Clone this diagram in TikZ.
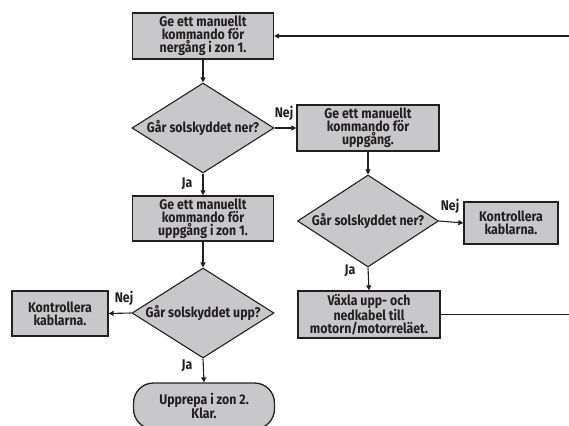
\documentclass[tikz,border=0pt]{standalone}
\usepackage{fontspec}
\setmainfont{Fira Sans}[BoldFeatures={FakeStretch=0.88}]
\usetikzlibrary{shapes.geometric,arrows.meta}
\definecolor{boxfill}{RGB}{200,200,202}
\definecolor{ink}{RGB}{35,31,32}
\tikzset{
  x=1pt,y=-1pt,
  every node/.style={font=\fontsize{14}{12.8}\selectfont\bfseries, text=ink},
  procbox/.style={draw=ink, line width=1.3pt, fill=boxfill, rectangle, align=center, inner sep=0pt},
  decision/.style={draw=ink, line width=1.1pt, fill=boxfill, diamond, aspect=1.58, inner sep=0pt, minimum width=142pt, minimum height=90pt},
  terminal/.style={draw=ink, line width=1.3pt, fill=boxfill, rectangle, rounded corners=20pt, align=center, inner sep=0pt},
  conn/.style={draw=ink, line width=1.1pt},
  arr/.style={conn, -{Triangle[length=5pt,width=5pt]}},
  lbl/.style={inner sep=0pt}
}
\begin{document}
\begin{tikzpicture}
\useasboundingbox (0,0) rectangle (569,425);
\clip (0,0) rectangle (569,425);
% left column
\node[procbox, minimum width=141pt, minimum height=46pt] (n1) at (203,36) {Ge ett manuellt\\kommando för\\nergång i zon 1.};
\node[decision] (d1) at (203,128) {Går solskyddet ner?};
\node[procbox, minimum width=141pt, minimum height=45pt] (n2) at (203,218.5) {Ge ett manuellt\\kommando för\\uppgång i zon 1.};
\node[decision] (d2) at (203,313) {Går solskyddet upp?};
\node[procbox, minimum width=96pt, minimum height=45pt] (kl) at (60,313.5) {Kontrollera\\kablarna.};
\node[terminal, minimum width=141pt, minimum height=46pt] (term) at (204,406) {Upprepa i zon 2.\\Klar.};
% right column
\node[procbox, minimum width=142pt, minimum height=46pt] (n3) at (368,128) {Ge ett manuellt\\kommando för\\uppgång.};
\node[decision, minimum width=141pt, minimum height=92pt] (d3) at (368,221) {Går solskyddet ner?};
\node[procbox, minimum width=94pt, minimum height=42pt] (kr) at (511,223) {Kontrollera\\kablarna.};
\node[procbox, minimum width=142pt, minimum height=47pt] (n4) at (369,314.5) {Växla upp- och\\nedkabel till\\motorn/motorreläet.};
% free ends at the right edge
\coordinate (rA) at (569,314.5);
\coordinate (rB) at (569,36);
% connectors
\draw[arr] (n1.south) -- (d1.north);
\draw[arr] (d1.south) -- (n2.north);
\draw[arr] (n2.south) -- (d2.north);
\draw[arr] (d2.south) -- (term.north);
\draw[arr] (d2.west) -- (kl.east);
\draw[arr] (d1.east) -- (n3.west);
\draw[arr] (n3.south) -- (d3.north);
\draw[arr] (d3.east) -- (kr.west);
\draw[arr] (d3.south) -- (n4.north);
\draw[conn] (n4.east) -- (rA);
\draw[arr] (rB) -- (n1.east);
% labels
\node[lbl] (l1) at (284,113) {Nej};
\node[lbl] (l2) at (187,184) {Ja};
\node[lbl] (l3) at (450,206) {Nej};
\node[lbl] (l4) at (350,271) {Ja};
\node[lbl] (l5) at (124,298) {Nej};
\node[lbl] (l6) at (187,366) {Ja};
\end{tikzpicture}
\end{document}
